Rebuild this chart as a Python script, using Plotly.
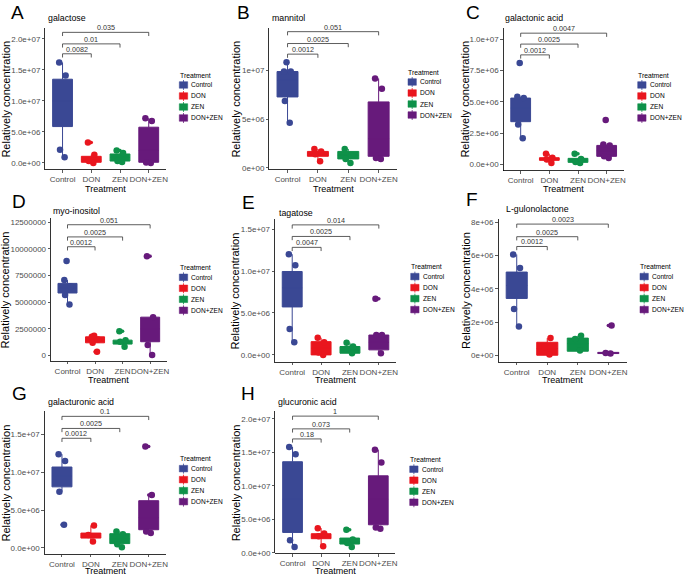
import plotly.graph_objects as go

# ---------------- data (values in units of 1e6) ----------------
SCALE = 1e6
groups = ["Control", "DON", "ZEN", "DON+ZEN"]
group_colors = ["#3A4894", "#E9161E", "#0E9149", "#671A7B"]

panel_letters = ["A", "B", "C", "D", "E", "F", "G", "H"]
panel_titles = ["galactose", "mannitol", "galactonic acid", "myo-inositol",
                "tagatose", "L-gulonolactone", "galacturonic acid", "glucuronic acid"]

# box stats per group: [lower whisker, q1, median, q3, upper whisker]
galactose_box = [[0.9, 5.86, 10.0, 13.5, 16.2], [0.0, 0.1, 0.5, 1.06, 1.33],
                 [0.16, 0.3, 0.9, 1.44, 1.6], [0.0, 0.1, 2.0, 5.76, 7.2]]
galactose_pts = [[16.2, 14.1, 2.13, 0.9], [3.3, 1.33, 0.3, 0.0],
                 [2.0, 1.6, 0.3, 0.16], [7.2, 6.77, 0.05, 0.0]]
galactose_p = ["0.0082", "0.01", "0.035"]
galactose_bracket = [17.6, 19.2, 21.06]
galactose_ticks = [0, 5, 10, 15, 20]
galactose_ticktext = ["0.0e+00", "5.0e+06", "1.0e+07", "1.5e+07", "2.0e+07"]

mannitol_box = [[4.64, 7.29, 9.0, 9.9, 10.85], [0.68, 1.19, 1.45, 1.69, 1.95],
                [0.5, 0.92, 1.3, 1.69, 1.95], [0.92, 1.19, 3.0, 6.78, 9.19]]
mannitol_pts = [[10.85, 9.9, 9.9, 6.88, 4.64], [1.95, 1.69, 1.4, 0.68],
                [1.95, 1.25, 0.92, 0.5], [9.19, 8.14, 1.02, 0.92]]
mannitol_p = ["0.0012", "0.0025", "0.051"]
mannitol_bracket = [11.69, 12.78, 14.0]
mannitol_ticks = [0, 5, 10]
mannitol_ticktext = ["0e+00", "5e+06", "1e+07"]

galactonic_box = [[2.1, 3.42, 4.5, 5.3, 5.4], [0.13, 0.34, 0.45, 0.55, 0.87],
                  [0.13, 0.18, 0.35, 0.5, 0.5], [0.53, 0.66, 1.1, 1.53, 1.6]]
galactonic_pts = [[8.1, 5.4, 5.3, 3.2, 2.1], [0.87, 0.55, 0.4, 0.13],
                  [0.87, 0.45, 0.2, 0.13], [3.55, 1.6, 1.53, 0.66, 0.53]]
galactonic_p = ["0.0012", "0.0025", "0.0047"]
galactonic_bracket = [8.74, 9.6, 10.47]
galactonic_ticks = [0, 2.5, 5, 7.5, 10]
galactonic_ticktext = ["0.0e+00", "2.5e+06", "5.0e+06", "7.5e+06", "1.0e+07"]

inositol_box = [[4.78, 5.86, 6.3, 6.76, 7.07], [1.2, 1.2, 1.5, 1.76, 1.85],
                [0.83, 1.08, 1.3, 1.45, 1.45], [0.06, 1.3, 2.5, 3.6, 3.6]]
inositol_pts = [[8.85, 7.07, 6.5, 5.68, 4.78], [1.85, 1.76, 1.5, 1.2, 0.37],
                [2.28, 1.45, 1.3, 0.83], [9.3, 3.6, 0.99, 0.06]]
inositol_p = ["0.0012", "0.0025", "0.051"]
inositol_bracket = [10.19, 11.11, 12.25]
inositol_ticks = [0, 2.5, 5, 7.5, 10, 12.5]
inositol_ticktext = ["0", "2500000", "5000000", "7500000", "10000000", "12500000"]

tagatose_box = [[1.5, 5.72, 8.0, 9.95, 12.0], [0.0, 0.0, 0.8, 1.58, 2.05],
                [0.1, 0.2, 0.6, 1.0, 1.46], [0.2, 0.6, 1.5, 2.37, 2.4]]
tagatose_pts = [[12.0, 10.7, 3.08, 1.5], [2.05, 1.5, 0.3, 0.0],
                [1.46, 1.0, 0.6, 0.2], [6.7, 2.37, 2.37, 0.2]]
tagatose_p = ["0.0047", "0.0025", "0.014"]
tagatose_bracket = [12.83, 14.13, 15.51]
tagatose_ticks = [0, 5, 10, 15]
tagatose_ticktext = ["0.0e+00", "5.0e+06", "1.0e+07", "1.5e+07"]

gulonolactone_box = [[1.73, 3.42, 4.2, 5.01, 6.07], [0.0, 0.0, 0.4, 0.78, 1.03],
                     [0.24, 0.24, 0.7, 1.03, 1.17], [0.05, 0.1, 0.14, 0.17, 0.2]]
gulonolactone_pts = [[6.07, 5.25, 2.79, 1.73], [1.03, 0.5, 0.04],
                     [1.17, 0.98, 0.28], [1.79, 0.14, 0.1]]
gulonolactone_p = ["0.0012", "0.0025", "0.0023"]
gulonolactone_bracket = [6.55, 7.14, 7.9]
gulonolactone_ticks = [0, 2, 4, 6, 8]
gulonolactone_ticktext = ["0e+00", "2e+06", "4e+06", "6e+06", "8e+06"]

galacturonic_box = [[7.43, 8.08, 9.5, 10.7, 12.4], [0.87, 1.31, 1.6, 1.97, 2.97],
                    [0.1, 0.58, 1.2, 1.89, 2.19], [1.97, 2.41, 4.0, 6.25, 6.9]]
galacturonic_pts = [[12.4, 11.5, 7.43, 3.06], [2.97, 1.7, 0.87],
                    [2.19, 1.8, 0.5, 0.1], [13.4, 7.0, 2.19, 1.97]]
galacturonic_p = ["0.0012", "0.0025", "0.1"]
galacturonic_bracket = [14.5, 15.8, 17.4]
galacturonic_ticks = [0, 5, 10, 15]
galacturonic_ticktext = ["0.0e+00", "5.0e+06", "1.0e+07", "1.5e+07"]

glucuronic_box = [[0.9, 3.06, 8.0, 13.6, 15.8], [1.0, 2.13, 2.5, 2.87, 3.7],
                  [0.9, 1.33, 1.7, 2.22, 2.22], [3.6, 4.2, 8.0, 11.5, 15.4]]
glucuronic_pts = [[15.8, 14.7, 1.88, 0.9], [3.7, 2.9, 2.5, 1.0],
                  [3.46, 2.0, 1.5, 0.9], [15.4, 13.5, 3.8, 3.6]]
glucuronic_p = ["0.18", "0.073", "1"]
glucuronic_bracket = [17.0, 18.5, 20.4]
glucuronic_ticks = [0, 5, 10, 15, 20]
glucuronic_ticktext = ["0.0e+00", "5.0e+06", "1.0e+07", "1.5e+07", "2.0e+07"]

panel_box = [galactose_box, mannitol_box, galactonic_box, inositol_box,
             tagatose_box, gulonolactone_box, galacturonic_box, glucuronic_box]
panel_pts = [galactose_pts, mannitol_pts, galactonic_pts, inositol_pts,
             tagatose_pts, gulonolactone_pts, galacturonic_pts, glucuronic_pts]
panel_p = [galactose_p, mannitol_p, galactonic_p, inositol_p,
           tagatose_p, gulonolactone_p, galacturonic_p, glucuronic_p]
panel_bracket = [galactose_bracket, mannitol_bracket, galactonic_bracket, inositol_bracket,
                 tagatose_bracket, gulonolactone_bracket, galacturonic_bracket, glucuronic_bracket]
panel_ticks = [galactose_ticks, mannitol_ticks, galactonic_ticks, inositol_ticks,
               tagatose_ticks, gulonolactone_ticks, galacturonic_ticks, glucuronic_ticks]
panel_ticktext = [galactose_ticktext, mannitol_ticktext, galactonic_ticktext, inositol_ticktext,
                  tagatose_ticktext, gulonolactone_ticktext, galacturonic_ticktext, glucuronic_ticktext]

# ---------------- layout geometry (pixels) ----------------
W, H = 685, 579
FONT = "Liberation Sans, Arial, Helvetica, sans-serif"
# panel plotting area: x_left, x_right, y_top, y_bottom ; y range (1e6 units)
panel_px = [(45.5, 166.7, 27, 170), (270.5, 398.6, 27, 170), (505.7, 626.6, 27, 171),
            (51.2, 167.4, 219, 363), (276.1, 397.9, 220, 364), (500.6, 629.4, 220, 364),
            (44.8, 166.8, 414, 557.5), (276.6, 397.2, 414, 557.2)]
panel_yrange = [(-1.07, 21.8), (-0.17, 14.4), (-0.47, 10.9), (-0.49, 12.87),
                (-0.83, 16.2), (-0.4, 8.2), (-0.755, 18.05), (-0.062, 21.1)]
letter_pos = [(9, 12), (236, 12), (466, 12), (10, 202), (241, 203.5), (466, 200.5),
              (10, 395.5), (240, 395.5)]
title_pos = [(46, 16.7), (270.7, 16.7), (505.3, 16.7), (51.7, 212), (278, 213.7),
             (506, 210.3), (46.7, 404), (277.3, 404)]
ytitle_x = [6, 237, 467.5, 6, 237, 468.5, 6, 237]
xtitle_y = [189.3, 189.3, 189.3, 382.3, 382.3, 382.3, 574.8, 574.8]
legend_pos = [(178.3, 74.7), (408, 71.7), (638.7, 74.7), (178.3, 268.7), (410.7, 268),
              (641, 268), (178.3, 461.7), (409.7, 462.3)]


def px(x):
    return x / W


def py(y):
    return 1 - y / H


fig = go.Figure()
annotations = []
shapes = []
layout_axes = {}

for i in range(8):
    n = i + 1
    xa, ya = f"x{n}", f"y{n}"
    x0, x1, yt, yb = panel_px[i]
    r0, r1 = panel_yrange[i]
    span = (r1 - r0) * SCALE

    for g, (grp, col) in enumerate(zip(groups, group_colors)):
        lo, q1, med, q3, hi = panel_box[i][g]
        fig.add_trace(go.Box(
            x=[grp], lowerfence=[lo * SCALE], q1=[q1 * SCALE], median=[med * SCALE],
            q3=[q3 * SCALE], upperfence=[hi * SCALE], orientation="v",
            fillcolor=col, line=dict(color=col, width=1), whiskerwidth=0, width=0.69,
            boxpoints=False, xaxis=xa, yaxis=ya, showlegend=False, hoverinfo="skip"))
    for g, (grp, col) in enumerate(zip(groups, group_colors)):
        vals = panel_pts[i][g]
        fig.add_trace(go.Box(
            x=[grp] * len(vals), y=[v * SCALE for v in vals], orientation="v",
            boxpoints="all", jitter=0.4, pointpos=0, width=0.69, whiskerwidth=0,
            fillcolor="rgba(0,0,0,0)", line=dict(color="rgba(0,0,0,0)", width=0),
            marker=dict(color=col, size=6.5, opacity=1),
            xaxis=xa, yaxis=ya, showlegend=False, hoverinfo="skip"))
    # outliers (points beyond whiskers) drawn small at the box centre
    for g, (grp, col) in enumerate(zip(groups, group_colors)):
        lo, q1, med, q3, hi = panel_box[i][g]
        outs = [v for v in panel_pts[i][g] if v > hi + 1e-9 or v < lo - 1e-9]
        if outs:
            fig.add_trace(go.Scatter(
                x=[grp] * len(outs), y=[v * SCALE for v in outs], mode="markers",
                marker=dict(color=col, size=3.5), xaxis=xa, yaxis=ya,
                showlegend=False, hoverinfo="skip", cliponaxis=False))

    # significance brackets
    tip = 0.026 * span
    for j, (b, lab) in enumerate(zip(panel_bracket[i], panel_p[i])):
        yv = b * SCALE
        xe = j + 1
        line = dict(color="#333333", width=0.8)
        shapes.append(dict(type="line", xref=xa, yref=ya, x0=0, x1=xe, y0=yv, y1=yv, line=line))
        shapes.append(dict(type="line", xref=xa, yref=ya, x0=0, x1=0, y0=yv - tip, y1=yv, line=line))
        shapes.append(dict(type="line", xref=xa, yref=ya, x0=xe, x1=xe, y0=yv - tip, y1=yv, line=line))
        annotations.append(dict(xref=xa, yref=ya, x=xe / 2, y=yv, text=lab, showarrow=False,
                                yanchor="bottom", xanchor="center", yshift=-2,
                                font=dict(size=7.2, color="#333333", family=FONT)))

    axis_common = dict(showline=True, linecolor="black", linewidth=0.8, ticks="outside",
                       ticklen=2.5, tickwidth=0.8, tickcolor="#333333", showgrid=False,
                       zeroline=False, tickfont=dict(size=8, color="#4D4D4D", family=FONT))
    layout_axes[f"xaxis{n}"] = dict(axis_common, type="category", categoryorder="array",
                                    categoryarray=groups, range=[-0.6, 3.6], tickangle=0,
                                    domain=[px(x0), px(x1)], anchor=ya)
    layout_axes[f"yaxis{n}"] = dict(axis_common, range=[r0 * SCALE, r1 * SCALE],
                                    tickvals=[t * SCALE for t in panel_ticks[i]],
                                    ticktext=panel_ticktext[i],
                                    domain=[py(yb), py(yt)], anchor=xa)

    # texts
    lx, ly = letter_pos[i]
    annotations.append(dict(xref="paper", yref="paper", x=px(lx), y=py(ly), text=panel_letters[i],
                            showarrow=False, xanchor="left", yanchor="middle",
                            font=dict(size=19, color="black", family=FONT)))
    tx, ty = title_pos[i]
    annotations.append(dict(xref="paper", yref="paper", x=px(tx), y=py(ty), text=panel_titles[i],
                            showarrow=False, xanchor="left", yanchor="middle",
                            font=dict(size=8.8, color="black", family=FONT)))
    annotations.append(dict(xref="paper", yref="paper", x=px(ytitle_x[i]), y=py((yt + yb) / 2),
                            text="Relatively concentration", textangle=-90, showarrow=False,
                            xanchor="center", yanchor="middle",
                            font=dict(size=11, color="black", family=FONT)))
    annotations.append(dict(xref="paper", yref="paper", x=px((x0 + x1) / 2), y=py(xtitle_y[i]),
                            text="Treatment", showarrow=False, xanchor="center", yanchor="middle",
                            borderpad=0, font=dict(size=9, color="black", family=FONT)))

    # legend
    gx, gy = legend_pos[i]
    annotations.append(dict(xref="paper", yref="paper", x=px(gx), y=py(gy), text="Treatment",
                            showarrow=False, xanchor="left", yanchor="middle",
                            font=dict(size=6.8, color="black", family=FONT)))
    for g, (grp, col) in enumerate(zip(groups, group_colors)):
        cy = gy + 10 + g * 11.1
        shapes.append(dict(type="line", xref="paper", yref="paper", x0=px(gx + 6), x1=px(gx + 6),
                           y0=py(cy - 5), y1=py(cy + 5), line=dict(color=col, width=0.8)))
        shapes.append(dict(type="rect", xref="paper", yref="paper", x0=px(gx + 1.8), x1=px(gx + 10.2),
                           y0=py(cy + 3.3), y1=py(cy - 3.3), fillcolor=col,
                           line=dict(color=col, width=0.5)))
        annotations.append(dict(xref="paper", yref="paper", x=px(gx + 11.7), y=py(cy), text=grp,
                                showarrow=False, xanchor="left", yanchor="middle",
                                font=dict(size=6.6, color="black", family=FONT)))

fig.update_layout(
    width=W, height=H, autosize=False,
    margin=dict(l=0, r=0, t=0, b=0),
    paper_bgcolor="white", plot_bgcolor="white",
    boxmode="overlay", showlegend=False,
    font=dict(family=FONT, color="black"),
    annotations=annotations, shapes=shapes,
    **layout_axes)

fig.write_html("out.html", config={"displayModeBar": False, "staticPlot": True},
               post_script="document.body.style.margin='0';document.body.style.padding='0';"
                           "document.body.style.overflow='hidden';")
